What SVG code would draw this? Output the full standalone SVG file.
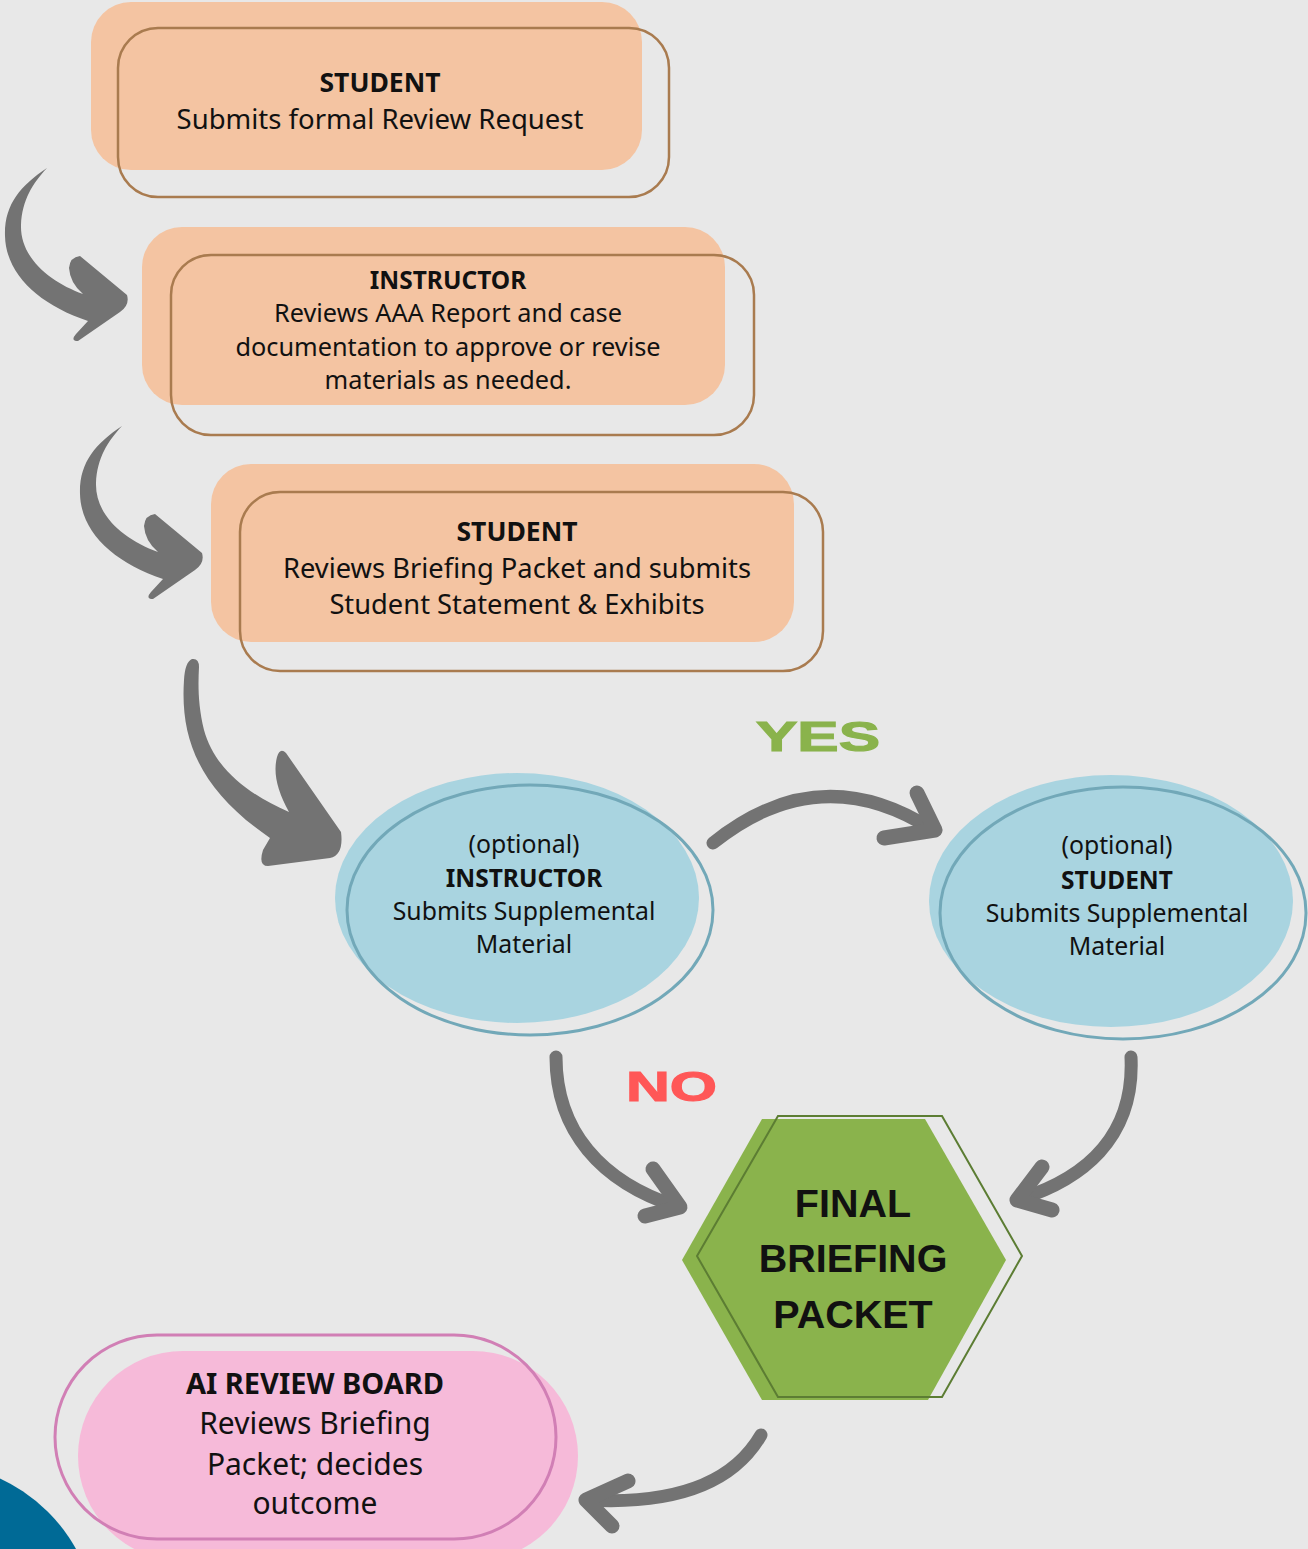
<svg xmlns="http://www.w3.org/2000/svg" width="1308" height="1549" viewBox="0 0 1308 1549">
<style>
.bg{fill:#e8e8e8}
.boxfill{fill:#f4c4a2}
.boxline{fill:none;stroke:#a97b4f;stroke-width:2.5}
.ellfill{fill:#a9d4e0}
.ellline{fill:none;stroke:#72a8b8;stroke-width:3}
.t{font-family:"Noto Sans","Liberation Sans",sans-serif;fill:#111;text-anchor:middle}
.b{font-weight:bold}
.hex{font-family:"Liberation Sans",Arial,sans-serif;font-weight:bold;font-size:39.5px;fill:#111;text-anchor:middle}
.lbl{font-family:"Liberation Sans",Arial,sans-serif;font-weight:bold;font-size:43px;stroke-width:1.2}
.swoosh{fill:#737373}
.arr{fill:none;stroke:#737373;stroke-width:13;stroke-linecap:round;stroke-linejoin:round}
.head{fill:none;stroke:#737373;stroke-width:15;stroke-linecap:round;stroke-linejoin:round}
</style>
<defs>
<path id="sw1" d="M47,168 C20,186 4,205 5,236 C6,275 40,305 88,321 L76,334 Q70,341 78,341 L120,312 Q130,305 127,295 L80,256 Q70,257 69,268 Q70,283 83,294 C50,282 20,258 21,225 C22,200 33,183 47,168 Z"/>
</defs>
<rect class="bg" x="0" y="0" width="1308" height="1549"/>
<circle cx="-70" cy="1630" r="167" fill="#006a96"/>

<g id="connectors">
<use href="#sw1" class="swoosh"/>
<use href="#sw1" class="swoosh" transform="translate(75,258)"/>
<path class="swoosh" d="M192,659 Q185,662 184,680 C180,740 200,790 270,838 L263,850 Q258,866 268,866 L330,858 Q344,855 341,832 L286,753 Q280,747 277,757 Q271,780 289,812 C250,795 215,770 204,730 C198,705 198,685 199,667 Q199,658 192,659 Z"/>
<path class="arr" d="M713,843 Q820,757 933,830"/>
<path class="head" d="M917,793 L935,830 L884,838"/>
<path class="arr" d="M556,1057 C556,1130 600,1182 678,1207"/>
<path class="head" d="M653,1169 L680,1207 L645,1216"/>
<path class="arr" d="M1131,1057 C1135,1140 1080,1180 1020,1199"/>
<path class="head" d="M1042,1167 L1017,1200 L1052,1210"/>
<path class="arr" d="M761,1435 C735,1480 680,1505 588,1500"/>
<path class="head" d="M628,1481 L586,1500 L612,1526"/>
</g>

<g id="node-student-request">
<rect class="boxfill" x="91" y="2" width="551" height="168" rx="40"/>
<rect class="boxline" x="118" y="28" width="551" height="169" rx="40"/>
<text class="t b" x="380" y="92" font-size="26.5">STUDENT</text>
<text class="t" x="380" y="129" font-size="27.5">Submits formal Review Request</text>
</g>

<g id="node-instructor-review">
<rect class="boxfill" x="142" y="227" width="583" height="178" rx="40"/>
<rect class="boxline" x="171" y="255" width="583" height="180" rx="40"/>
<text class="t b" x="448" y="289" font-size="24.5">INSTRUCTOR</text>
<text class="t" x="448" y="322" font-size="25.3">Reviews AAA Report and case</text>
<text class="t" x="448" y="356" font-size="25.3">documentation to approve or revise</text>
<text class="t" x="448" y="389" font-size="25.3">materials as needed.</text>
</g>

<g id="node-student-statement">
<rect class="boxfill" x="211" y="464" width="583" height="178" rx="40"/>
<rect class="boxline" x="240" y="492" width="583" height="179" rx="40"/>
<text class="t b" x="517" y="541" font-size="26.5">STUDENT</text>
<text class="t" x="517" y="578" font-size="27.3">Reviews Briefing Packet and submits</text>
<text class="t" x="517" y="614" font-size="27.3">Student Statement &amp; Exhibits</text>
</g>

<g id="node-instructor-supplemental">
<ellipse class="ellfill" cx="517" cy="898" rx="182" ry="125"/>
<ellipse class="ellline" cx="530" cy="910" rx="183" ry="125"/>
<text class="t" x="524" y="853" font-size="24.8">(optional)</text>
<text class="t b" x="524" y="887" font-size="24.5">INSTRUCTOR</text>
<text class="t" x="524" y="920" font-size="24.8">Submits Supplemental</text>
<text class="t" x="524" y="953" font-size="24.8">Material</text>
</g>

<g id="node-student-supplemental">
<ellipse class="ellfill" cx="1111" cy="901" rx="182" ry="126"/>
<ellipse class="ellline" cx="1123" cy="913" rx="183" ry="126"/>
<text class="t" x="1117" y="854" font-size="24.8">(optional)</text>
<text class="t b" x="1117" y="889" font-size="24.5">STUDENT</text>
<text class="t" x="1117" y="922" font-size="24.8">Submits Supplemental</text>
<text class="t" x="1117" y="955" font-size="24.8">Material</text>
</g>

<g id="label-yes">
<text class="lbl" x="756" y="751" fill="#8ab34c" stroke="#8ab34c" textLength="124" lengthAdjust="spacingAndGlyphs">YES</text>
</g>
<g id="label-no">
<text class="lbl" x="626" y="1101" fill="#ff5757" stroke="#ff5757" textLength="91" lengthAdjust="spacingAndGlyphs">NO</text>
</g>

<g id="node-final-packet">
<polygon points="762,1119 925,1119 1006,1260 928,1400 762,1400 682,1260" fill="#8ab34c"/>
<polygon points="778,1116 942,1116 1022,1256 942,1397 778,1397 697,1256" fill="none" stroke="#5c7d33" stroke-width="2"/>
<text class="hex" x="853" y="1217">FINAL</text>
<text class="hex" x="853" y="1272">BRIEFING</text>
<text class="hex" x="853" y="1328">PACKET</text>
</g>

<g id="node-ai-board">
<rect x="78" y="1351" width="500" height="210" rx="105" fill="#f6bad9"/>
<rect x="55" y="1335" width="501" height="204" rx="102" fill="none" stroke="#d17fb5" stroke-width="3"/>
<text class="t b" x="315" y="1394" font-size="29">AI REVIEW BOARD</text>
<text class="t" x="315" y="1434" font-size="30">Reviews Briefing</text>
<text class="t" x="315" y="1475" font-size="30">Packet; decides</text>
<text class="t" x="315" y="1514" font-size="30">outcome</text>
</g>
</svg>
